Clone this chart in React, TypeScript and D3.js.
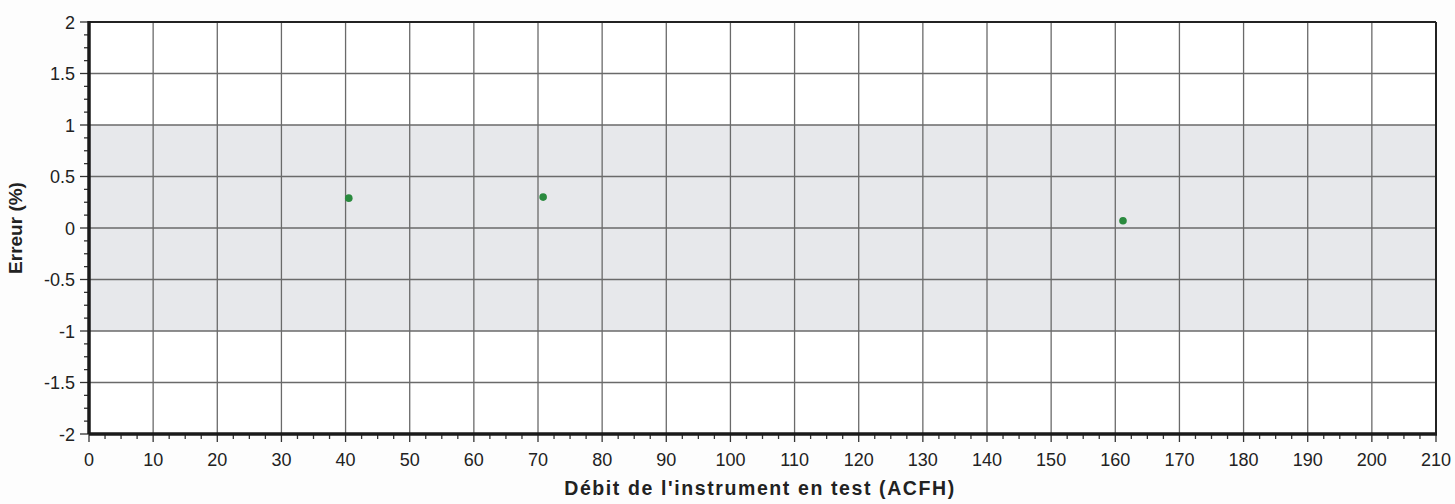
import React, { useEffect, useRef } from "react";
import * as d3 from "d3";

const xTicks = [0, 10, 20, 30, 40, 50, 60, 70, 80, 90, 100, 110, 120, 130, 140, 150, 160, 170, 180, 190, 200, 210];
const yTicks = [-2, -1.5, -1, -0.5, 0, 0.5, 1, 1.5, 2];
const pointX = [40.5, 70.8, 161.2];
const pointY = [0.29, 0.3, 0.07];
const bandLow = -1;
const bandHigh = 1;
const xTitle = "Débit de l'instrument en test (ACFH)";
const yTitle = "Erreur (%)";

export default function App() {
  const ref = useRef<SVGSVGElement>(null);
  useEffect(() => {
    const svg = d3.select(ref.current);
    svg.selectAll("*").remove();
    const W = 1455, H = 504;
    const L = 89, R = 1436, T = 22, B = 434;
    const x = d3.scaleLinear().domain([0, 210]).range([L, R]);
    const y = d3.scaleLinear().domain([-2, 2]).range([B, T]);
    const font = "'Liberation Sans', Arial, sans-serif";

    svg.append("rect").attr("width", W).attr("height", H).attr("fill", "#fdfdfd");
    svg.append("rect").attr("x", L).attr("y", T).attr("width", R - L).attr("height", B - T).attr("fill", "#ffffff");
    svg.append("rect").attr("x", L).attr("y", y(bandHigh)).attr("width", R - L)
      .attr("height", y(bandLow) - y(bandHigh)).attr("fill", "#e7e8eb");

    // grid
    svg.append("g").selectAll("line").data(xTicks.slice(1, -1)).join("line")
      .attr("x1", d => x(d)).attr("x2", d => x(d)).attr("y1", T).attr("y2", B)
      .attr("stroke", "#6a6a6a").attr("stroke-width", 1.3);
    svg.append("g").selectAll("line").data(yTicks.slice(1, -1)).join("line")
      .attr("y1", d => y(d)).attr("y2", d => y(d)).attr("x1", L).attr("x2", R)
      .attr("stroke", "#6a6a6a").attr("stroke-width", 1.3);

    // frame
    svg.append("line").attr("x1", L).attr("x2", R).attr("y1", T).attr("y2", T).attr("stroke", "#222").attr("stroke-width", 2);
    svg.append("line").attr("x1", R).attr("x2", R).attr("y1", T).attr("y2", B).attr("stroke", "#222").attr("stroke-width", 2);

    // axes
    const xMinor = d3.range(0, 210.01, 2.5);
    const yMinor = d3.range(-2, 2.001, 0.125);
    svg.append("g").selectAll("line").data(xMinor).join("line")
      .attr("x1", d => x(d)).attr("x2", d => x(d)).attr("y1", B)
      .attr("y2", d => B + (Math.abs(d % 10) < 1e-6 ? 8 : 5))
      .attr("stroke", "#333").attr("stroke-width", 1.3);
    svg.append("g").selectAll("line").data(yMinor).join("line")
      .attr("y1", d => y(d)).attr("y2", d => y(d)).attr("x1", L)
      .attr("x2", d => L - (Math.abs((d * 2) % 1) < 1e-6 ? 9 : 5))
      .attr("stroke", "#333").attr("stroke-width", 1.3);
    svg.append("line").attr("x1", L).attr("x2", R + 1).attr("y1", B).attr("y2", B).attr("stroke", "#1a1a1a").attr("stroke-width", 3.5);
    svg.append("line").attr("x1", L).attr("x2", L).attr("y1", T - 1).attr("y2", B).attr("stroke", "#1a1a1a").attr("stroke-width", 3.5);

    svg.append("g").selectAll("text").data(xTicks).join("text")
      .attr("x", d => x(d)).attr("y", B + 32).attr("text-anchor", "middle")
      .attr("font-family", font).attr("font-size", 18).attr("fill", "#222")
      .text(d => String(d));
    svg.append("g").selectAll("text").data(yTicks).join("text")
      .attr("x", L - 14).attr("y", d => y(d) + 6.5).attr("text-anchor", "end")
      .attr("font-family", font).attr("font-size", 18).attr("fill", "#222")
      .text(d => String(d));

    svg.append("text").attr("x", 760).attr("y", 495).attr("text-anchor", "middle")
      .attr("font-family", font).attr("font-size", 19.5).attr("font-weight", "bold").attr("fill", "#222")
      .attr("letter-spacing", 1.6)
      .text(xTitle);
    svg.append("text").attr("transform", `translate(22,${(T + B) / 2}) rotate(-90)`).attr("text-anchor", "middle")
      .attr("font-family", font).attr("font-size", 19).attr("font-weight", "bold").attr("fill", "#222")
      .text(yTitle);

    svg.append("g").selectAll("circle").data(pointX.map((v, i) => [v, pointY[i]])).join("circle")
      .attr("cx", d => x(d[0])).attr("cy", d => y(d[1])).attr("r", 3.8).attr("fill", "#2a8a3e");
  }, []);
  return (
    <svg ref={ref} width={1455} height={504} style={{ position: "absolute", left: 0, top: 0 }} />
  );
}
